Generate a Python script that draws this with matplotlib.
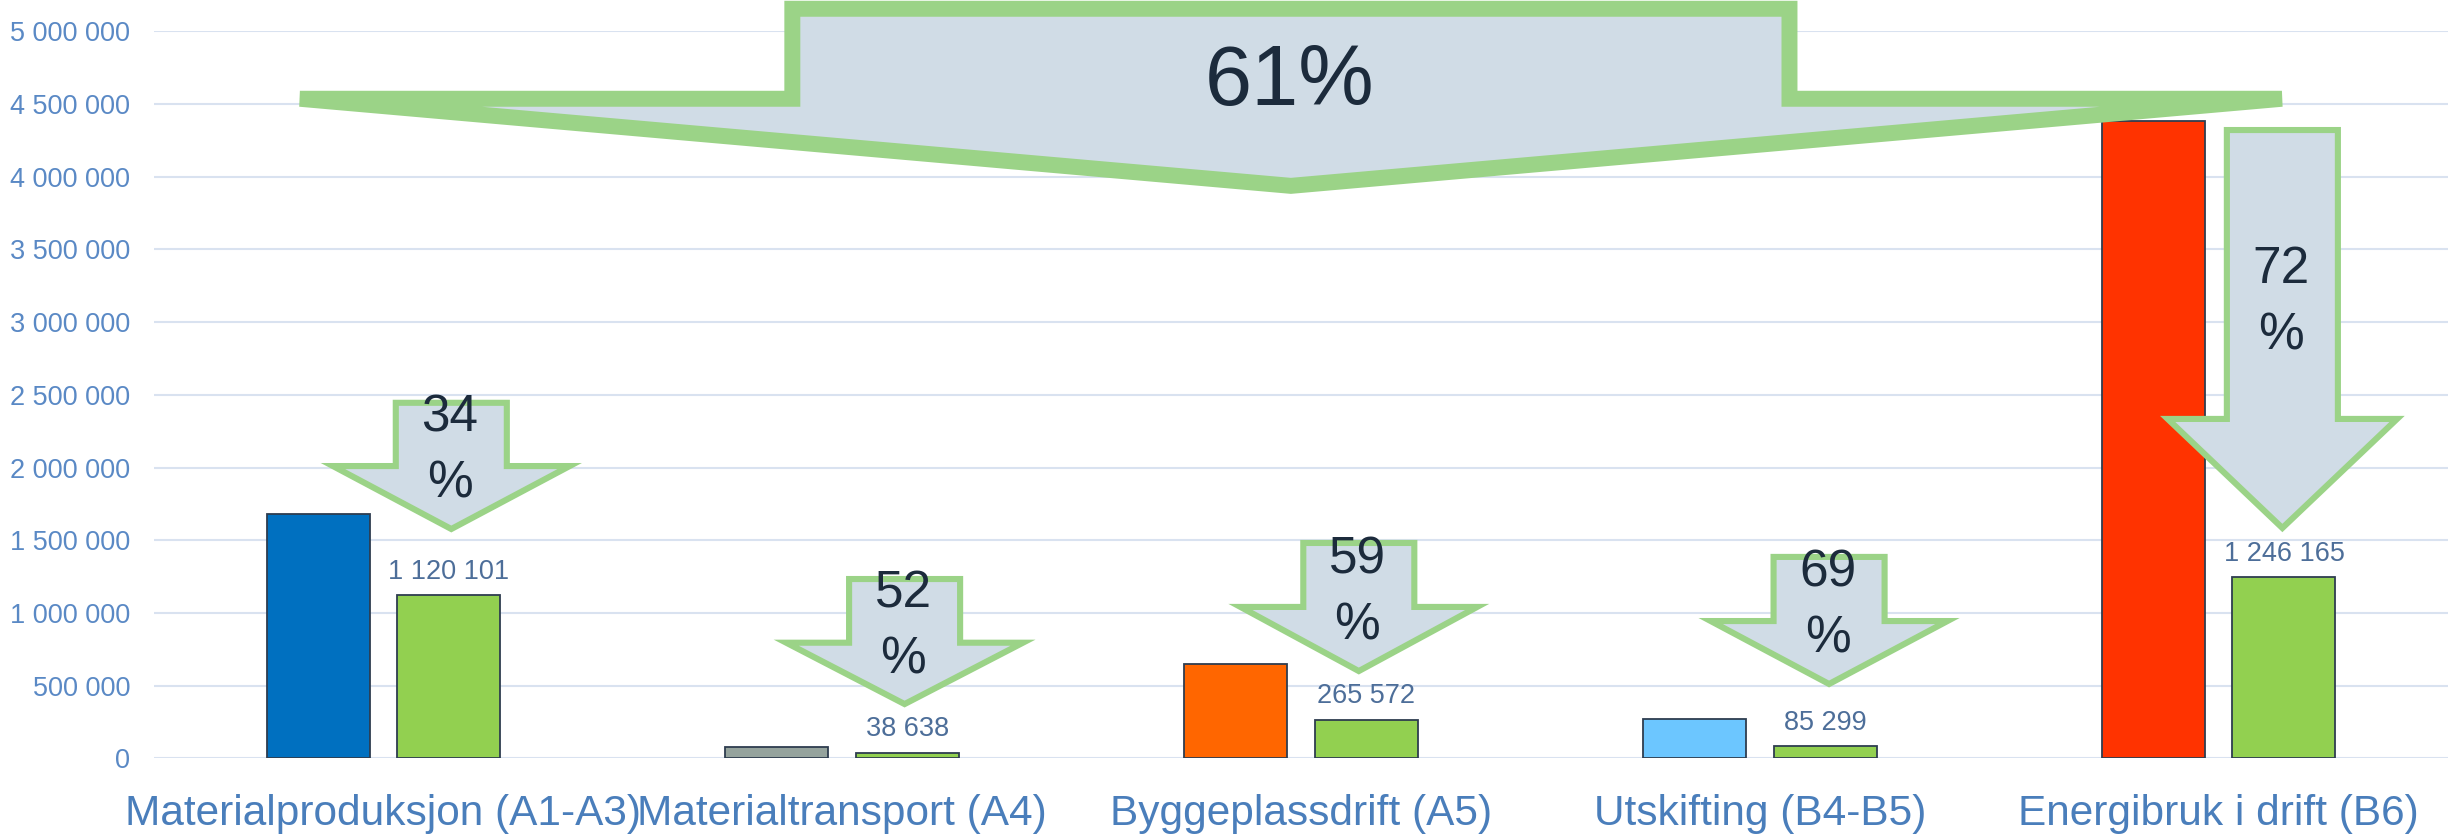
import matplotlib
matplotlib.use('Agg')
import matplotlib.pyplot as plt
import matplotlib.transforms as mtransforms
from matplotlib.patches import Polygon
from matplotlib.ticker import FuncFormatter
import numpy as np

plt.rcParams['font.family'] = ['Liberation Sans', 'DejaVu Sans']

# ---- data ----
categories = ['Materialproduksjon (A1-A3)', 'Materialtransport (A4)',
              'Byggeplassdrift (A5)', 'Utskifting (B4-B5)',
              'Energibruk i drift (B6)']
original = [1680000, 75000, 650000, 272000, 4385000]
reduced = [1120101, 38638, 265572, 85299, 1246165]
reduction_pct = ['34', '52', '59', '69', '72']
total_pct = '61%'
yticks = [0, 500000, 1000000, 1500000, 2000000, 2500000,
          3000000, 3500000, 4000000, 4500000, 5000000]

orig_colors = ['#0070C0', '#95A39D', '#FF6600', '#6CC6FF', '#FF3300']
green = '#92D050'

# arrow layout (x in category units, y in data units)
arrow_x = [0.148, 1.136, 2.126, 3.151, 4.139]
arrow_top = [2.445e6, 1.233e6, 1.481e6, 1.385e6, 4.321e6]
arrow_shoulder = [2.010e6, 0.795e6, 1.041e6, 0.944e6, 2.334e6]
arrow_tip = [1.577e6, 0.373e6, 0.600e6, 0.511e6, 1.584e6]
arrow_text_y = [2.114e6, 0.903e6, 1.135e6, 1.049e6, 3.133e6]

ARROW_FILL = '#D0DCE6'
ARROW_EDGE = '#9BD387'
TEXT_DARK = '#1C2B3C'


def down_arrow(ax, xc, y_top, y_sh, y_tip, stem_hw, wing_hw, lw):
    pts = [(xc - stem_hw, y_top), (xc + stem_hw, y_top), (xc + stem_hw, y_sh),
           (xc + wing_hw, y_sh), (xc, y_tip), (xc - wing_hw, y_sh),
           (xc - stem_hw, y_sh)]
    p = Polygon(pts, closed=True, facecolor=ARROW_FILL, edgecolor=ARROW_EDGE,
                linewidth=lw, joinstyle='miter', clip_on=False, zorder=4)
    ax.add_patch(p)
    return p


fig = plt.figure(figsize=(24.6, 8.35), dpi=100)
ax = fig.add_axes([154 / 2460, 76.7 / 835, 2294 / 2460, 727 / 835])

x = np.arange(len(categories))
off = 0.1425
w = 0.2245
ax.bar(x - off, original, width=w, color=orig_colors, edgecolor='#2E3D4F',
       linewidth=1.3, zorder=3)
ax.bar(x + off, reduced, width=w, color=green, edgecolor='#2E3D4F',
       linewidth=1.3, zorder=3)

for xi, v in zip(x, reduced):
    ax.annotate(f'{v:,.0f}'.replace(',', ' '), xy=(xi + off, v),
                xytext=(0, 11.8), textcoords='offset points',
                ha='center', va='baseline', fontsize=19.5, color='#4D6E99',
                zorder=5)

ax.set_xlim(-0.5, 4.5)
ax.set_ylim(0, 5000000)
ax.set_yticks(yticks)
ax.yaxis.set_major_formatter(FuncFormatter(lambda v, p: f'{v:,.0f}'.replace(',', ' ')))
ax.tick_params(axis='y', length=0, pad=17, labelsize=19.5, labelcolor='#5A89C5')
ax.set_xticks([])
ax.yaxis.grid(True, color='#D9E2F0', linewidth=1.5)
ax.set_axisbelow(True)
for s in ax.spines.values():
    s.set_visible(False)

trans = mtransforms.blended_transform_factory(ax.transData, ax.transAxes)
for xi, lab in zip(x, categories):
    ax.text(xi, -0.0917, lab, transform=trans, ha='center', va='baseline',
            fontsize=30.5, color='#4A7EBB', clip_on=False)

# small reduction arrows
for i in range(len(categories)):
    wing = 0.25 if i == 4 else 0.258
    down_arrow(ax, arrow_x[i], arrow_top[i], arrow_shoulder[i], arrow_tip[i],
               0.121, wing, 4.4)
    ax.text(arrow_x[i] - 0.003, arrow_text_y[i], reduction_pct[i] + '\n%',
            ha='center', va='center', fontsize=37, color=TEXT_DARK,
            linespacing=1.45, zorder=6)

# big total arrow
down_arrow(ax, 1.978, 5.155e6, 4.536e6, 3.937e6, 1.0867, 2.160, 11.5)
ax.text(1.976, 4.645e6, total_pct, ha='center', va='center', fontsize=61,
        color=TEXT_DARK, zorder=6)

plt.savefig('out.png', dpi=100)
plt.close(fig)
